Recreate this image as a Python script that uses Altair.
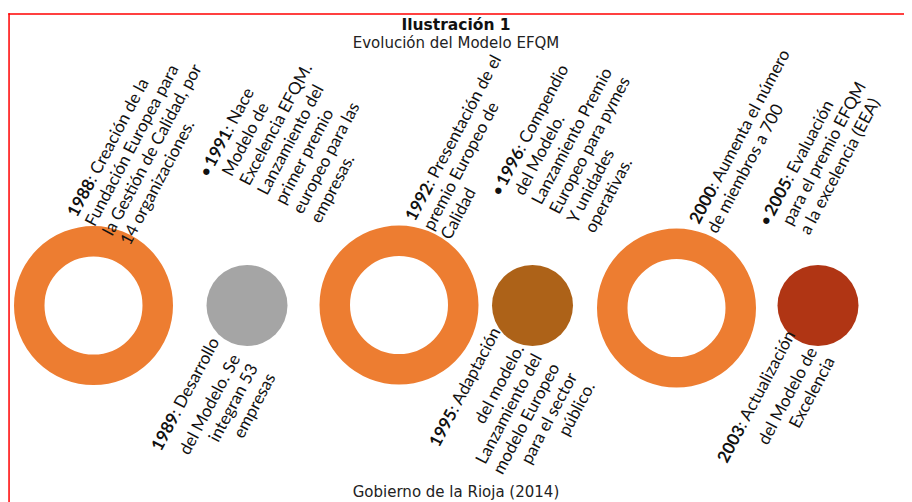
import altair as alt
import pandas as pd

# ---------------- content ----------------
TITLE = "Ilustración 1"
SUBTITLE = "Evolución del Modelo EFQM"
SOURCE = "Gobierno de la Rioja (2014)"

YEARS = ["1988", "1989", "1991", "1992", "1995", "1996", "2000", "2003", "2005"]
FIRST_LINE = [
    ": Creación de la",
    ": Desarrollo",
    ": Nace",
    ": Presentación de el",
    ": Adaptación",
    ": Compendio",
    ": Aumenta el número",
    ": Actualización",
    ": Evaluación",
]
OTHER_LINES = [
    ["Fundación Europea para", "la Gestión de Calidad, por", "14 organizaciones."],
    ["del Modelo. Se", "integran 53", "empresas"],
    ["Modelo de", "Excelencia EFQM.", "Lanzamiento del", "primer premio",
     "europeo para las", "empresas."],
    ["premio Europeo de", "Calidad"],
    ["del modelo.", "Lanzamiento del", "modelo Europeo", "para el sector", "público."],
    ["del Modelo.", "Lanzamiento Premio", "Europeo para pymes", "Y unidades", "operativas."],
    ["de miembros a 700"],
    ["del Modelo de", "Excelencia"],
    ["para el premio EFQM", "a la excelencia (EEA)"],
]
BULLETED = [False, False, True, False, False, True, False, False, True]
SIDE = ["top", "bottom", "top", "top", "bottom", "top", "top", "bottom", "top"]

STAGES = ["1988", "1989-1991", "1992", "1995-1996", "2000", "2003-2005"]
STAGE_KIND = ["ring", "dot", "ring", "dot", "ring", "dot"]

# ---------------- layout (screen pixels) ----------------
CENTER_X = [93.5, 247, 399, 532.5, 676.5, 818]
CENTER_Y = [305.5, 305.5, 305, 305.5, 308, 305.5]
LABEL_START = [(77, 218), (161, 452), (214, 168), (415, 222), (439, 448),
               (506, 187), (699, 225), (727, 464), (774, 217)]
LABEL_END = [(0, 0), (223, 349), (0, 0), (0, 0), (507, 339),
             (0, 0), (0, 0), (800, 342), (0, 0)]
FRAME = {"x1": [8.3, 8.3], "x2": [904, 9.8], "y1": [13.3, 13.3], "y2": [14.8, 502]}

RING_COLOR = "#ED7D31"
DOT_STAGES = [s for s, k in zip(STAGES, STAGE_KIND) if k == "dot"]
DOT_COLORS = ["#A5A5A5", "#AD6218", "#B03514"]

ANGLE = 298
FONT = "Lato"
FS = 17
LH = 20

circles = pd.DataFrame({"stage": STAGES, "kind": STAGE_KIND, "x": CENTER_X, "y": CENTER_Y})
labels = pd.DataFrame({
    "year": YEARS,
    "first": FIRST_LINE,
    "rest": OTHER_LINES,
    "bullet": BULLETED,
    "side": SIDE,
    "sx": [p[0] for p in LABEL_START],
    "sy": [p[1] for p in LABEL_START],
    "ex": [p[0] for p in LABEL_END],
    "ey": [p[1] for p in LABEL_END],
})
heads = pd.DataFrame({
    "t": [TITLE, SUBTITLE, SOURCE],
    "x": [456, 456, 456],
    "y": [30, 48, 497],
    "w": ["bold", "normal", "normal"],
})
frame = pd.DataFrame(FRAME)

XS = alt.Scale(domain=[8, 904], nice=False, zero=False)
YS = alt.Scale(domain=[8, 502], nice=False, zero=False, reverse=True)


def X(f):
    return alt.X(f"{f}:Q", scale=XS, axis=None)


def Y(f):
    return alt.Y(f"{f}:Q", scale=YS, axis=None)


border = alt.Chart(frame).mark_rect(color="#FF0000", opacity=1).encode(
    x=X("x1"), x2="x2:Q", y=Y("y1"), y2="y2:Q")

rings = alt.Chart(circles).transform_filter(alt.datum.kind == "ring").mark_point(
    shape="circle", filled=False, size=128.5 ** 2, strokeWidth=30.5, opacity=1,
    color=RING_COLOR,
).encode(x=X("x"), y=Y("y"))

dots = alt.Chart(circles).transform_filter(alt.datum.kind == "dot").mark_circle(
    size=81 ** 2, opacity=1,
).encode(
    x=X("x"), y=Y("y"),
    color=alt.Color("stage:N", scale=alt.Scale(domain=DOT_STAGES, range=DOT_COLORS), legend=None),
)

txt = dict(font=FONT, fontSize=FS, angle=ANGLE, baseline="alphabetic", color="#111111")

years = alt.Chart(labels).mark_text(align="left", fontWeight="bold", **txt).encode(
    x=X("sx"), y=Y("sy"), text="year:N")
first = alt.Chart(labels).mark_text(align="left", dx=39.5, **txt).encode(
    x=X("sx"), y=Y("sy"), text="first:N")
bullets = alt.Chart(labels).transform_filter(alt.datum.bullet).mark_text(
    align="center", dx=-7, text="•", **txt).encode(x=X("sx"), y=Y("sy"))
rest_top = alt.Chart(labels).transform_filter(alt.datum.side == "top").mark_text(
    align="left", dy=LH, lineHeight=LH, **txt).encode(x=X("sx"), y=Y("sy"), text="rest")
rest_bottom = alt.Chart(labels).transform_filter(alt.datum.side == "bottom").mark_text(
    align="right", dy=LH, lineHeight=LH, **txt).encode(x=X("ex"), y=Y("ey"), text="rest")

head_bold = alt.Chart(heads).transform_filter(alt.datum.w == "bold").mark_text(
    font="DejaVu Sans", fontSize=15.5, fontWeight="bold", color="#111111",
    align="center", baseline="alphabetic").encode(x=X("x"), y=Y("y"), text="t:N")
head_norm = alt.Chart(heads).transform_filter(alt.datum.w == "normal").mark_text(
    font="DejaVu Sans", fontSize=15, color="#222222",
    align="center", baseline="alphabetic").encode(x=X("x"), y=Y("y"), text="t:N")

chart = alt.layer(
    border, rings, dots, years, first, bullets, rest_top, rest_bottom,
    head_bold, head_norm,
).properties(
    width=896, height=494, autosize=alt.AutoSizeParams(type="none"), padding=0,
    background="white",
).configure_view(stroke=None)

chart.save("out.html", embed_options={"renderer": "svg", "actions": False})
